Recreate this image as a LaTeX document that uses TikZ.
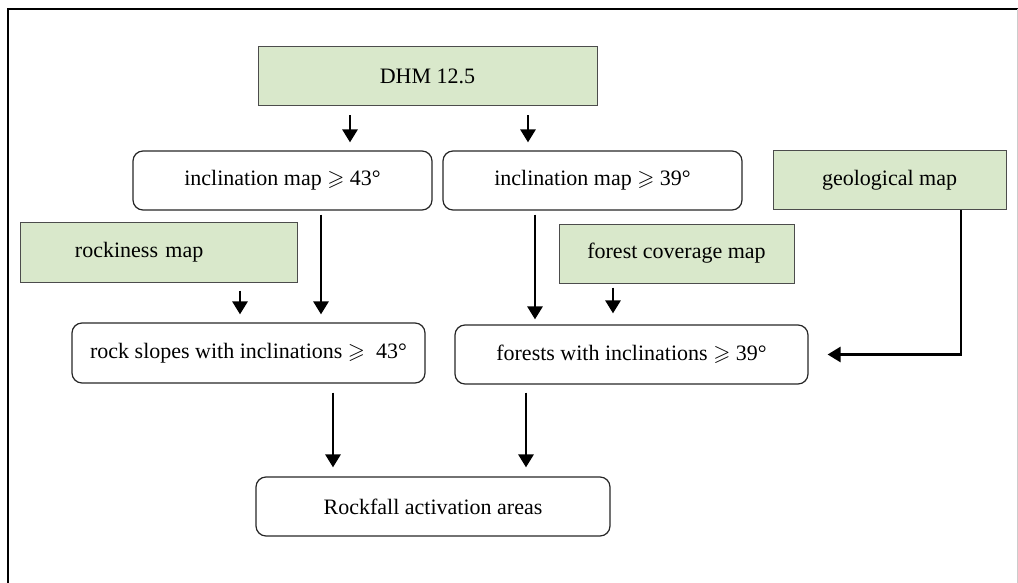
\documentclass[tikz,border=0pt]{standalone}
\usepackage{amsmath, amssymb}
\usepackage{fontspec}
\setmainfont{Liberation Serif}
\usepackage{tikz}
\usetikzlibrary{arrows.meta}
\definecolor{mapgreen}{HTML}{D9E8CB}

\begin{document}
\begin{tikzpicture}[x=0.5pt,y=-0.5pt,
		font=\fontsize{11}{13}\selectfont,
		source/.style={draw=black!70,line width=0.5pt,fill=mapgreen,minimum height=29.5pt},
		result/.style={draw=black!85,line width=0.6pt,rounded corners=5pt,minimum height=29.5pt},
		arr/.style={line width=1.4pt,-{Triangle[width=7.5pt,length=6.5pt]}}]
		\useasboundingbox (0,0) rectangle (1018,583);
		\draw[line width=1pt] (8,583) -- (8,9) -- (1018,9);
		\draw[black!20,line width=0.5pt] (1017,9) -- (1017,583);
		% inputs
		\node[source,minimum width=169.5pt] (dhm) at (427.5,76.5) {DHM 12.5};
		\node[source,minimum width=116.5pt] (geo) at (889.5,180) {geological map};
		\node[source,text width=83.5pt,inner xsep=27.5pt,align=left,minimum height=30pt] (rock) at (158.5,252) {rockiness map};
		\node[source,minimum width=117.5pt] (forcov) at (676.5,253.5) {forest coverage map};
		% results
		\node[result,minimum width=149.5pt] (inc43) at (282.5,180.5) {inclination map $\geqslant$ 43°};
		\node[result,minimum width=149.5pt] (inc39) at (592.5,180.5) {inclination map $\geqslant$ 39°};
		\node[result,minimum width=176.5pt,minimum height=30pt] (slopes) at (248.5,353) {rock slopes with inclinations $\geqslant$\ \ 43°};
		\node[result,minimum width=176.5pt] (forests) at (631.5,354.5) {forests with inclinations $\geqslant$ 39°};
		\node[result,minimum width=177pt] (fall) at (433,506.5) {Rockfall activation areas};
		% connectors
		\draw[arr,shorten <=4.5pt,shorten >=4pt] ([xshift=-38.75pt]dhm.south) -- ([xshift=-38.75pt]dhm.south |- inc43.north);
		\draw[arr,shorten <=4.5pt,shorten >=4pt] ([xshift=50.25pt]dhm.south) -- ([xshift=50.25pt]dhm.south |- inc39.north);
		\draw[arr,shorten <=2pt,shorten >=4pt] ([xshift=19.25pt]inc43.south) -- ([xshift=19.25pt]inc43.south |- slopes.north);
		\draw[arr,shorten <=4pt,shorten >=4pt] ([xshift=40.75pt]rock.south) -- ([xshift=40.75pt]rock.south |- slopes.north);
		\draw[arr,shorten <=2pt,shorten >=2.5pt] ([xshift=-28.75pt]inc39.south) -- ([xshift=-28.75pt]inc39.south |- forests.north);
		\draw[arr,shorten <=2pt,shorten >=5.5pt] ([xshift=-31.75pt]forcov.south) -- ([xshift=-31.75pt]forcov.south |- forests.north);
		\draw[arr,shorten >=9.5pt] ([xshift=35.75pt]geo.south) |- (forests.east);
		\draw[arr,shorten <=4.5pt,shorten >=4.5pt] ([xshift=42.25pt]slopes.south) -- ([xshift=42.25pt]slopes.south |- fall.north);
		\draw[arr,shorten <=4pt,shorten >=4.5pt] ([xshift=-52.75pt]forests.south) -- ([xshift=-52.75pt]forests.south |- fall.north);
	\end{tikzpicture}
\end{document}
